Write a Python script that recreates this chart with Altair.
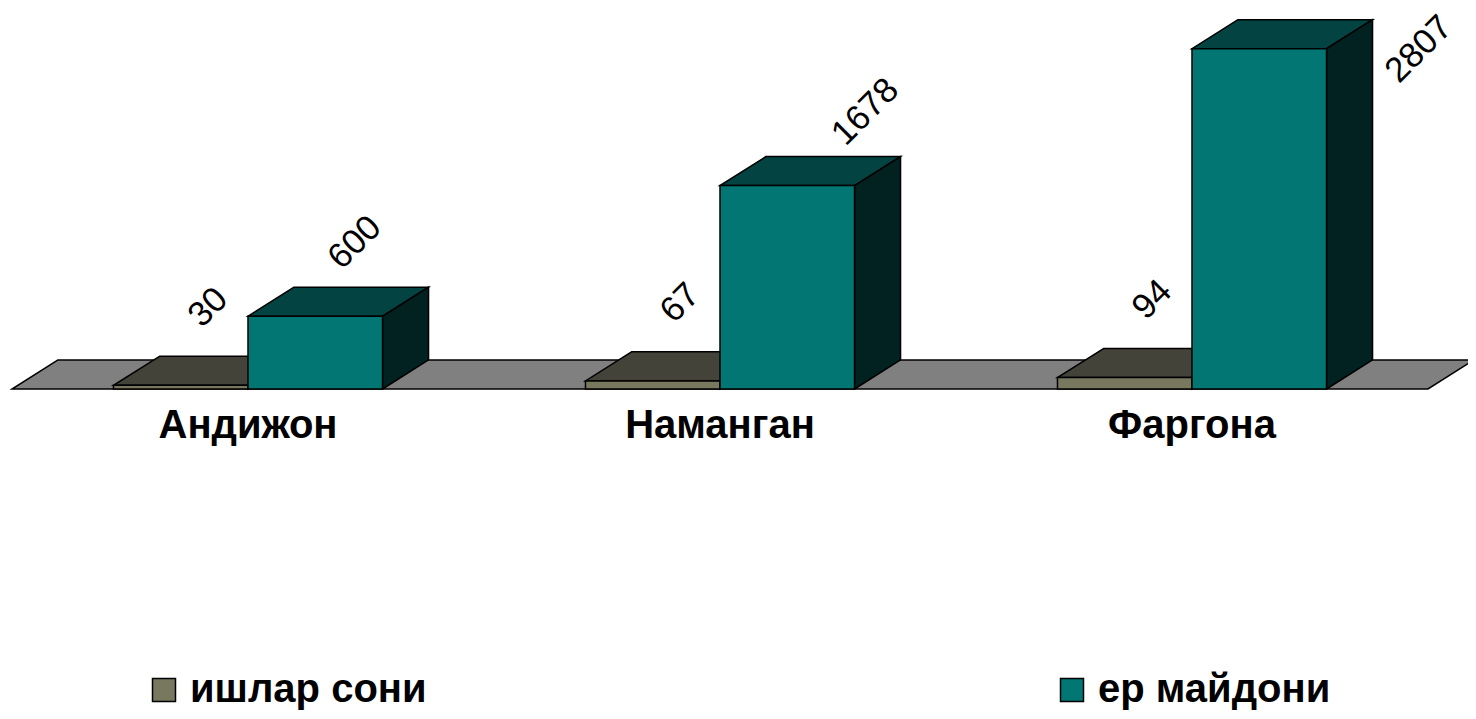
import altair as alt
import pandas as pd

# ---- data ----
categories = ["Андижон", "Наманган", "Фаргона"]
series_names = ["ишлар сони", "ер майдони"]
ishlar_soni = [30, 67, 94]
yer_maydoni = [600, 1678, 2807]

# ---- style ----
front_colors = ["#78785E", "#027673"]
top_colors = ["#43433A", "#034443"]
side_colors = ["#2B2B24", "#012220"]
floor_color = "#808080"
FONT = "Liberation Sans"

# geometry (category units on x, value units on y)
GAP = 0.215          # gap from category start to first bar
BAR_W = 0.285        # bar width
DX = 0.0975          # 3D depth along x
DY = 240             # 3D depth along y (value units)
PX_PER_UNIT_X = 472
PLOT_W = 1456
XMAX = PLOT_W / PX_PER_UNIT_X
YMAX = 3143
PX_PER_UNIT_Y = 381 / YMAX

xscale = alt.Scale(domain=[0, XMAX], nice=False, zero=False)
yscale = alt.Scale(domain=[0, YMAX], nice=False, zero=False)

fronts, tops, sides, labels = [], [], [], []
for ci, cat in enumerate(categories):
    for si, (sname, vals) in enumerate(zip(series_names, [ishlar_soni, yer_maydoni])):
        v = vals[ci]
        x0 = ci + GAP + si * BAR_W
        x1 = x0 + BAR_W
        bid = f"{ci}-{si}"
        fronts.append(dict(x0=x0, x1=x1, v=v, base=0, series=sname))
        tops.append(dict(id=bid, y=v, xa=x0, xb=x1, fill=top_colors[si]))
        tops.append(dict(id=bid, y=v + DY, xa=x0 + DX, xb=x1 + DX, fill=top_colors[si]))
        sides.append(dict(id=bid, x=x1, ylo=0, yhi=v, fill=side_colors[si]))
        sides.append(dict(id=bid, x=x1 + DX, ylo=DY, yhi=v + DY, fill=side_colors[si]))
        if si == 0:
            lx = x1 - 40 / PX_PER_UNIT_X
            ly = v + 644
        else:
            ly_unc = v + 610
            cap = (389 - 49) / PX_PER_UNIT_Y
            ly = min(ly_unc, cap)
            clamp_px = (ly_unc - ly) * PX_PER_UNIT_Y
            off_px = -28 + 0.036 * (v - 600) + 0.55 * clamp_px
            lx = x1 + off_px / PX_PER_UNIT_X
        labels.append(dict(lx=lx, ly=ly, txt=str(v)))

floor = pd.DataFrame([
    dict(id="floor", y=0, xa=0, xb=3, fill=floor_color),
    dict(id="floor", y=DY, xa=DX, xb=3 + DX, fill=floor_color),
])
fronts = pd.DataFrame(fronts)
tops = pd.DataFrame(tops)
sides = pd.DataFrame(sides)
labels = pd.DataFrame(labels)
cats = pd.DataFrame(dict(cat=categories, cx=[i + 0.5 for i in range(len(categories))], zero=0))


def hface(df):
    return alt.Chart(df).mark_area(orient="horizontal", stroke="black", strokeWidth=1.5, opacity=1).encode(
        y=alt.Y("y:Q", scale=yscale, axis=None),
        x=alt.X("xa:Q", scale=xscale, axis=None, stack=False),
        x2="xb:Q",
        detail="id:N",
        color=alt.Color("fill:N", scale=None),
    )


floor_layer = hface(floor)
top_layer = hface(tops)

side_layer = alt.Chart(sides).mark_area(orient="vertical", stroke="black", strokeWidth=1.5, opacity=1).encode(
    x=alt.X("x:Q", scale=xscale, axis=None),
    y=alt.Y("ylo:Q", scale=yscale, axis=None, stack=False),
    y2="yhi:Q",
    detail="id:N",
    color=alt.Color("fill:N", scale=None),
)

front_layer = alt.Chart(fronts).mark_rect(stroke="black", strokeWidth=1.5).encode(
    x=alt.X("x0:Q", scale=xscale,
            axis=alt.Axis(values=[0, 1, 2, 3], labels=False, ticks=True, tickSize=6,
                          tickColor="black", tickWidth=1.5, domain=False, grid=False, title=None)),
    x2="x1:Q",
    y=alt.Y("v:Q", scale=yscale, axis=None),
    y2="base:Q",
    color=alt.Color("series:N",
                    scale=alt.Scale(domain=series_names, range=front_colors),
                    legend=alt.Legend(title=None, orient="none", legendX=132, legendY=662,
                                      direction="horizontal", symbolType="square", symbolSize=529,
                                      symbolStrokeColor="black", symbolStrokeWidth=1.5,
                                      labelFont=FONT, labelFontWeight="bold", labelFontSize=40,
                                      labelColor="black", labelLimit=400, labelOffset=6,
                                      columnPadding=625)),
)

value_labels = alt.Chart(labels).mark_text(
    angle=315, font=FONT, fontSize=35, align="center", baseline="middle", color="black"
).encode(
    x=alt.X("lx:Q", scale=xscale),
    y=alt.Y("ly:Q", scale=yscale),
    text="txt:N",
)

cat_labels = alt.Chart(cats).mark_text(
    font=FONT, fontSize=40, fontWeight="bold", align="center", baseline="middle", dy=37, color="black"
).encode(
    x=alt.X("cx:Q", scale=xscale),
    y=alt.Y("zero:Q", scale=yscale),
    text="cat:N",
)

chart = alt.layer(
    floor_layer, top_layer, side_layer, front_layer, value_labels, cat_labels
).properties(
    width=PLOT_W, height=381,
    autosize=alt.AutoSizeParams(type="none"),
    padding={"left": 4, "top": 0, "right": 0, "bottom": 322},
    background="white",
).configure_view(stroke=None)

chart.save("out.html", embed_options={"renderer": "svg", "actions": False})
